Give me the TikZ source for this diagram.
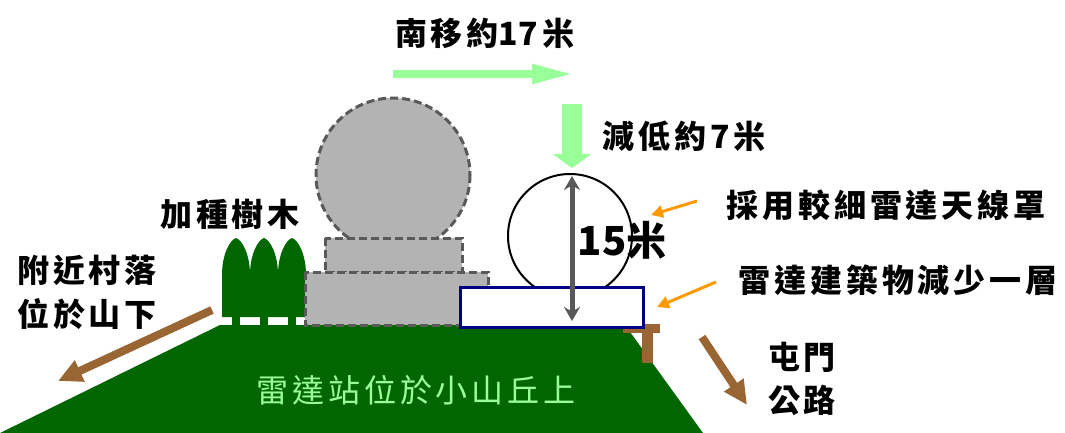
\documentclass[tikz,border=0pt]{standalone}
\usepackage{fontspec}
\usepackage{xcolor}
\usetikzlibrary{arrows.meta}
\newfontfamily\cjk[LetterSpace=12]{Noto Sans CJK TC}
\newfontfamily\cjktight{Noto Sans CJK TC}
\definecolor{hillgreen}{RGB}{0,102,0}
\definecolor{mintgreen}{RGB}{153,255,153}
\definecolor{roadbrown}{RGB}{153,102,51}
\definecolor{radarnavy}{RGB}{0,0,128}
\definecolor{oldgray}{RGB}{179,179,179}
\definecolor{dashgray}{RGB}{89,89,89}
\definecolor{pointorange}{RGB}{255,153,0}
\tikzset{
  label/.style={font=\cjk\bfseries\fontsize{16}{18}\selectfont, inner sep=0pt},
  oldpart/.style={fill=oldgray, draw=dashgray, line width=1.5pt, dash pattern=on 4pt off 2pt},
  brownarrow/.style={roadbrown, line width=4pt, -{Triangle[length=12pt, width=11pt]}},
  orangearrow/.style={pointorange, line width=1.5pt, -{Triangle[length=6pt, width=6pt]}}
}
\begin{document}
\begin{tikzpicture}[x=0.5pt,y=-0.5pt]
\useasboundingbox (0,0) rectangle (1065,433);
\fill[hillgreen] (0,433) -- (220,325) -- (625,325) -- (703,433) -- cycle;
\foreach \tx in {236,264,292} {
  \fill[hillgreen] (\tx-4,312) rectangle (\tx+4,326);
  \fill[hillgreen] (\tx-14,317) -- (\tx-14,275) .. controls (\tx-14,254) and (\tx-6,240) .. (\tx,238)
    .. controls (\tx+6,240) and (\tx+14,254) .. (\tx+14,275) -- (\tx+14,317) -- cycle;
}
\path[oldpart] (393,175) circle[radius=77];
\path[oldpart] (325,238) rectangle (462,272);
\path[oldpart] (305,272) rectangle (488,325);
\draw[black, line width=1pt] (570,236) circle[radius=62];
\fill[roadbrown] (623,324) rectangle (660,333);
\fill[roadbrown] (642,333) rectangle (653,363);
\filldraw[fill=white, draw=radarnavy, line width=1.5pt] (460,287) rectangle (643,327);
\coordinate (domeTop) at (572,176);
\coordinate (domeBase) at (572,321);
\draw[dashgray, line width=2.5pt, {Stealth[length=7pt, width=8pt]}-{Stealth[length=7pt, width=8pt]}] (domeTop) -- (domeBase);
\node[label, font=\cjktight\bfseries\fontsize{20}{22}\selectfont] (height) at (622,240) {15米};

\coordinate (moveFrom) at (393,74);
\coordinate (moveTo) at (574,74);
\draw[mintgreen, line width=4pt, -{Triangle[length=21pt, width=9pt]}] (moveFrom) -- (moveTo);
\coordinate (lowerFrom) at (572,104);
\coordinate (lowerTo) at (572,168);
\draw[mintgreen, line width=10pt, -{Triangle[length=7pt, width=19pt]}] (lowerFrom) -- (lowerTo);
\node[label] (move) at (485,33) {南移約{\cjktight\bfseries 17}\,米};
\node[label] (lower) at (684,136) {減低約7米};

\coordinate (thinFrom) at (697,201);
\coordinate (thinTo) at (651,215);
\draw[orangearrow] (thinFrom) -- (thinTo);
\node[label] (thin) at (886,205) {採用較細雷達天線罩};
\coordinate (floorFrom) at (716,282);
\coordinate (floorTo) at (657,307);
\draw[orangearrow] (floorFrom) -- (floorTo);
\node[label] (onefloor) at (898,280) {雷達建築物減少一層};

\node[label] (trees) at (230,214) {加種樹木};
\node[label] (village) at (87,270) {附近村落};
\node[label] (below) at (87,314) {位於山下};
\coordinate (villageFrom) at (212,310);
\coordinate (villageTo) at (58,381);
\draw[brownarrow] (villageFrom) -- (villageTo);

\node[label] (tuenmun) at (802,357) {屯門};
\node[label] (road) at (802,400) {公路};
\coordinate (roadFrom) at (702,337);
\coordinate (roadTo) at (747,405);
\draw[brownarrow] (roadFrom) -- (roadTo);

\node[label, font=\cjk\fontsize{16}{18}\selectfont, text=mintgreen] (hill) at (416,390) {雷達站位於小山丘上};
\end{tikzpicture}
\end{document}
